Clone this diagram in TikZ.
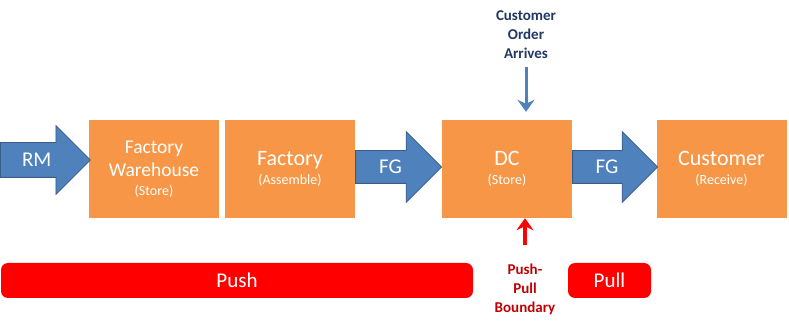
\documentclass[tikz,border=0pt]{standalone}
\usepackage{fontspec}
\setmainfont{Carlito}
\usepackage{tikz}
\usetikzlibrary{arrows.meta,positioning,shapes.arrows}
\definecolor{Orange}{HTML}{F79646}
\definecolor{Blue}{HTML}{4F81BD}
\definecolor{BlueLine}{HTML}{385D8A}
\definecolor{Navy}{HTML}{1F3864}
\definecolor{DarkRed}{HTML}{C00000}
\newcommand{\stagesub}[1]{{\fontsize{14}{17}\selectfont #1}}

\begin{document}
\begin{tikzpicture}[x=1pt,y=1pt,
  stagebox/.style={rectangle,fill=Orange,align=center,minimum width=130pt,minimum height=98pt,text=white,font=\fontsize{22}{25}\selectfont},
  flowarrow/.style={single arrow,anchor=tail,fill=Blue,draw=BlueLine,line width=0.8pt,text=white,font=\fontsize{21}{24}\selectfont,text height=13pt,text depth=0pt,inner xsep=0pt},
  modebar/.style={rectangle,rounded corners=7pt,fill=red,text=white,minimum height=35pt,font=\fontsize{21}{24}\selectfont},
  note/.style={align=center,inner sep=0pt,font=\fontsize{15}{19}\selectfont\bfseries},
  signal/.style={-{Stealth[length=12pt,width=17pt,inset=4pt]},line width=3pt}]
  \useasboundingbox (0,0) rectangle (789,326);

  \node[stagebox,font=\fontsize{19.5}{23}\selectfont] (fw) at (154,157) {Factory\\Warehouse\\[-4pt]\stagesub{(Store)}};
  \node[stagebox] (fac) at (290,157) {Factory\\[-6pt]\stagesub{(Assemble)}};
  \node[stagebox] (dc) at (507,157) {DC\\[-6pt]\stagesub{(Store)}};
  \node[stagebox] (cust) at (721.5,157) {Customer\\[-6pt]\stagesub{(Receive)}};

  \node[flowarrow,minimum height=90pt,inner ysep=10.5pt,single arrow head extend=17pt] (rm) at (0,166) {RM};
  \node[flowarrow,minimum height=86pt,inner ysep=9.5pt,single arrow head extend=19pt] (fg1) at ([yshift=2pt]fac.east) {FG};
  \node[flowarrow,minimum height=85pt,inner ysep=9.5pt,single arrow head extend=19pt] (fg2) at ([yshift=2pt]dc.east) {FG};

  \node[note,text=Navy] (order) at (526,291) {Customer\\Order\\Arrives};
  \node[note,text=DarkRed] (boundary) at (525,37) {Push-\\Pull\\Boundary};

  \node[modebar,minimum width=472pt] (push) at (237,45.5) {Push};
  \node[modebar,minimum width=83pt] (pull) at (609.5,45.5) {Pull};

  \draw[signal,Blue,shorten <=8pt,shorten >=8pt] (order) -- (order |- dc.north);
  \draw[signal,red,line width=3.5pt,shorten <=18pt] (boundary) -- (boundary |- dc.south);
\end{tikzpicture}
\end{document}
